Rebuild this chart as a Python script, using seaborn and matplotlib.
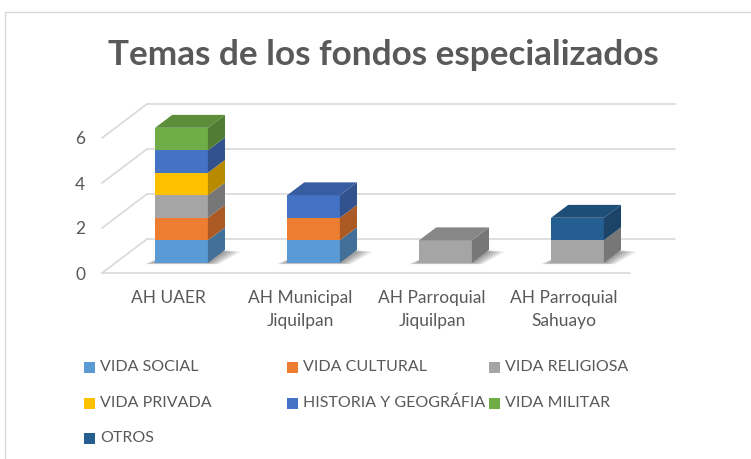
import numpy as np
import pandas as pd
import matplotlib
matplotlib.use("Agg")
import matplotlib.pyplot as plt
import seaborn as sns
from matplotlib.patches import Polygon, Rectangle
from matplotlib.lines import Line2D
from matplotlib.colors import to_rgb

# Data
archivos = ["AH UAER", "AH Municipal\nJiquilpan", "AH Parroquial\nJiquilpan", "AH Parroquial\nSahuayo"]
temas = ["VIDA SOCIAL", "VIDA CULTURAL", "VIDA RELIGIOSA", "VIDA PRIVADA",
         "HISTORIA Y GEOGRÁFIA", "VIDA MILITAR", "OTROS"]
vida_social = [1, 1, 0, 0]
vida_cultural = [1, 1, 0, 0]
vida_religiosa = [1, 0, 1, 1]
vida_privada = [1, 0, 0, 0]
historia_geografia = [1, 1, 0, 0]
vida_militar = [1, 0, 0, 0]
otros = [0, 0, 0, 1]
colores = ["#5B9BD5", "#ED7D31", "#A5A5A5", "#FFC000", "#4472C4", "#70AD47", "#255E91"]
y_ticks = [0, 2, 4, 6]

df = pd.DataFrame(
    [vida_social, vida_cultural, vida_religiosa, vida_privada,
     historia_geografia, vida_militar, otros],
    index=temas, columns=archivos,
)

TXT = "#595959"
GRID = "#d9d9d9"

sns.set_theme(style="white")
plt.rcParams["font.family"] = ["Lato", "DejaVu Sans"]

W, H = 751, 459
fig = plt.figure(figsize=(W / 100, H / 100), dpi=100)
fig.patch.set_facecolor("white")

# front plane of the 3D box: x from 102px to 630px, value 0 at 273px, 22.5px per unit
ax = fig.add_axes([102 / W, (H - 273) / H, 528 / W, 8 * 22.5 / H])
ax.set_xlim(-0.5, 3.5)
ax.set_ylim(0, 8)
ax.set_facecolor("none")
sns.despine(ax=ax, left=True, bottom=True)

# depth of the box expressed in data units (45px right, 34px up)
DX = 45 / 132
DY = 34 / 22.5
D0, D1 = 0.30, 0.68
BW = 0.40


def darker(c, f):
    r, g, b = to_rgb(c)
    return (r * f, g * f, b * f)


# walls and floor
for v in y_ticks:
    ax.plot([-0.5 + DX, 3.5 + DX], [v + DY, v + DY], color=GRID, lw=1.2, clip_on=False, zorder=1)
    ax.plot([-0.5, -0.5 + DX], [v, v + DY], color=GRID, lw=1.2, clip_on=False, zorder=1)
ax.plot([-0.5, 3.5], [0, 0], color=GRID, lw=1.2, clip_on=False, zorder=1)

# soft shadows under the bars
for i in range(len(archivos)):
    xl, xr = i - BW / 2, i + BW / 2
    for e in np.linspace(0.08, 0.01, 6):
        pts = [(xl - e + D0 * DX, D0 * DY - e * 0.8), (xr + e + D0 * DX, D0 * DY - e * 0.8),
               (xr + 1.5 * e + D1 * DX, D1 * DY - e), (xl + D1 * DX, D1 * DY - e)]
        ax.add_patch(Polygon(pts, closed=True, facecolor="black", alpha=0.08,
                             edgecolor="none", clip_on=False, zorder=2))

# stacked 3D bars
xs = np.arange(len(archivos))
bottoms = np.zeros(len(archivos))
tops = df.sum(axis=0).values
for j, tema in enumerate(temas):
    vals = df.loc[tema].values
    c = colores[j]
    for i in xs:
        h = vals[i]
        if h == 0:
            continue
        b = bottoms[i]
        ax.bar(i + D0 * DX, h, width=BW, bottom=b + D0 * DY, color=c,
               edgecolor="none", zorder=3, clip_on=False)
        xr = i + BW / 2
        side = [(xr + D0 * DX, b + D0 * DY), (xr + D1 * DX, b + D1 * DY),
                (xr + D1 * DX, b + h + D1 * DY), (xr + D0 * DX, b + h + D0 * DY)]
        ax.add_patch(Polygon(side, closed=True, facecolor=darker(c, 0.72),
                             edgecolor="none", zorder=3, clip_on=False))
        if b + h == tops[i]:
            xl = i - BW / 2
            t = b + h
            top = [(xl + D0 * DX, t + D0 * DY), (xr + D0 * DX, t + D0 * DY),
                   (xr + D1 * DX, t + D1 * DY), (xl + D1 * DX, t + D1 * DY)]
            ax.add_patch(Polygon(top, closed=True, facecolor=darker(c, 0.82),
                                 edgecolor="none", zorder=3, clip_on=False))
    bottoms += vals

ax.set_yticks(y_ticks)
ax.set_yticklabels([str(v) for v in y_ticks])
ax.set_xticks(xs)
ax.set_xticklabels(archivos)
ax.tick_params(axis="y", length=0, pad=12, labelsize=12.5, labelcolor=TXT)
ax.tick_params(axis="x", length=0, pad=12, labelsize=12.5, labelcolor=TXT)
for lbl in ax.get_xticklabels():
    lbl.set_linespacing(1.6)
ax.grid(False)

# title
fig.text(383 / W, 1 - 65 / H, "Temas de los fondos especializados", ha="center",
         va="baseline", fontsize=25.3, fontweight="bold", color=TXT)

# legend laid out in rows of three like the original
col_x = [84, 287, 489]
row_y = [367, 403, 438]
for k, tema in enumerate(temas):
    x = col_x[k % 3]
    y = row_y[k // 3]
    fig.add_artist(Rectangle((x / W, 1 - (y + 5.5) / H), 11 / W, 11 / H,
                             transform=fig.transFigure, facecolor=colores[k], edgecolor="none"))
    fig.text((x + 16) / W, 1 - y / H, tema, ha="left", va="center", fontsize=11.5, color=TXT)

# chart frame
fig.add_artist(Line2D([5 / W, 1], [1 - 12 / H, 1 - 12 / H], transform=fig.transFigure, color=GRID, lw=1))
fig.add_artist(Line2D([5 / W, 5 / W], [0, 1 - 12 / H], transform=fig.transFigure, color=GRID, lw=1))

fig.savefig("out.png", dpi=100)
